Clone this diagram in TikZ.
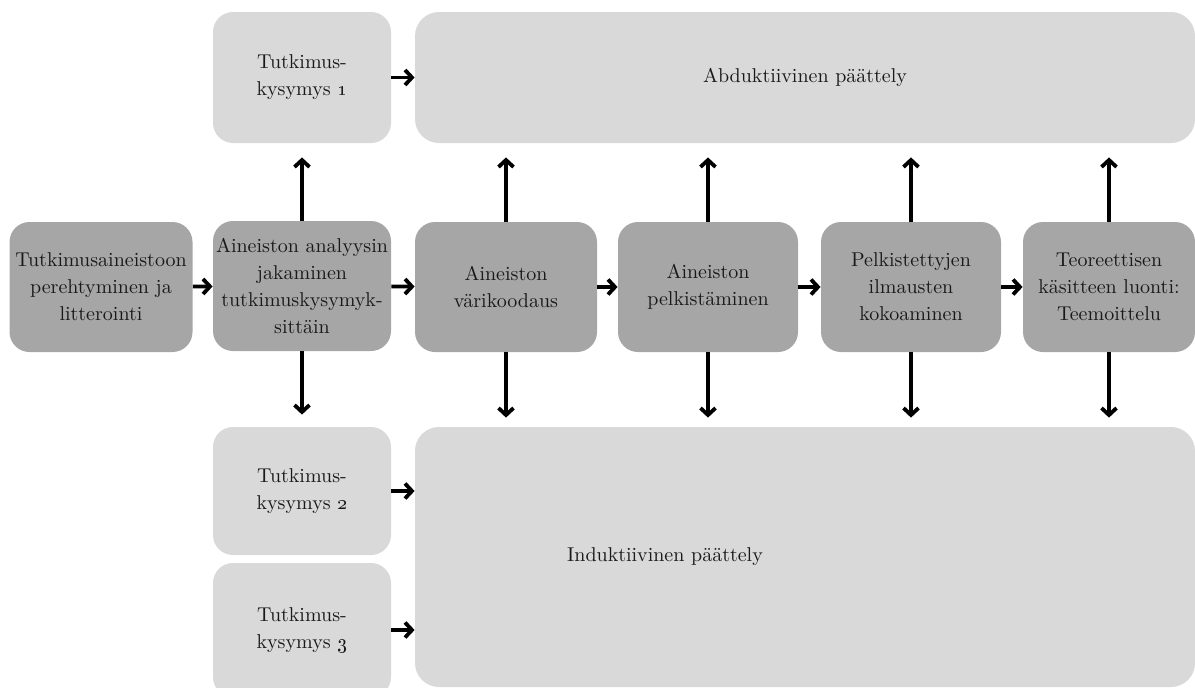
\documentclass[tikz,border=0pt]{standalone}
\usepackage{tikz}
\usetikzlibrary{positioning, arrows.meta}

\begin{document}
\begin{tikzpicture}[x=0.5pt, y=-0.5pt,
   arr/.style={-{Straight Barb[length=3.5pt, width=7.5pt]}, line width=1.9pt},
   phase/.style={rectangle, rounded corners=10pt, fill=black!35, text=black!90, align=center,
      inner sep=0pt, minimum width=90pt, minimum height=65pt, font=\fontsize{10}{13.5}\selectfont},
   qbox/.style={rectangle, rounded corners=10pt, fill=black!15, text=black!90, align=center,
      inner sep=0pt, minimum width=89pt, font=\fontsize{10}{13.5}\selectfont},
   big/.style={rectangle, rounded corners=12pt, fill=black!15, inner sep=0pt, minimum width=390pt}]
  \clip (0,0) rectangle (1195,687);
  \node[qbox, minimum height=65.5pt] (q1)  at (302,77.5) {Tutkimus-\\kysymys \oldstylenums{1}};
  \node[big, minimum height=65.5pt, text=black!90, font=\fontsize{10}{13.5}\selectfont]
        (abd) at (805,77.5) {Abduktiivinen päättely};
  \node[phase, minimum width=91.5pt] (b1) at (101,287) {Tutkimusaineistoon\\perehtyminen ja\\litterointi};
  \node[phase, minimum width=89pt]   (b2) at (302,286) {Aineiston analyysin\\jakaminen\\tutkimuskysymyk-\\sittäin};
  \node[phase, minimum width=91pt]   (b3) at (506,287) {Aineiston\\värikoodaus};
  \node[phase]                       (b4) at (708,287) {Aineiston\\pelkistäminen};
  \node[phase]                       (b5) at (911,287) {Pelkistettyjen\\ilmausten\\kokoaminen};
  \node[phase, minimum width=86pt]   (b6) at (1109,287) {Teoreettisen\\käsitteen luonti:\\Teemoittelu};
  \node[qbox, minimum height=64pt] (q2)  at (302,491) {Tutkimus-\\kysymys \oldstylenums{2}};
  \node[qbox, minimum height=67pt] (q3)  at (302,630) {Tutkimus-\\kysymys \oldstylenums{3}};
  \node[big, minimum height=130pt] (ind) at (805,557) {};
  \node[text=black!90, font=\fontsize{10}{13.5}\selectfont] (indlabel) at (665,557) {Induktiivinen päättely};
  \draw[arr] (b1) -- (b2);
  \draw[arr] (b2) -- (b3);
  \draw[arr] (b3) -- (b4);
  \draw[arr] (b4) -- (b5);
  \draw[arr] (b5) -- (b6);
  \draw[arr] (q1.east) -- (q1.east -| abd.west);
  \draw[arr] (q2.east) -- (q2.east -| ind.west);
  \draw[arr] (q3.east) -- (q3.east -| ind.west);
  \draw[arr, shorten >=7pt] (b2.north) -- (q1.south);
  \draw[arr, shorten >=6pt] (b2.south) -- (q2.north);
  \draw[arr, shorten >=7pt] (b3.north) -- (b3.north |- abd.south);
  \draw[arr, shorten >=7pt] (b4.north) -- (b4.north |- abd.south);
  \draw[arr, shorten >=7pt] (b5.north) -- (b5.north |- abd.south);
  \draw[arr, shorten >=7pt] (b6.north) -- (b6.north |- abd.south);
  \draw[arr, shorten >=4.5pt] (b3.south) -- (b3.south |- ind.north);
  \draw[arr, shorten >=4.5pt] (b4.south) -- (b4.south |- ind.north);
  \draw[arr, shorten >=4.5pt] (b5.south) -- (b5.south |- ind.north);
  \draw[arr, shorten >=4.5pt] (b6.south) -- (b6.south |- ind.north);
\end{tikzpicture}
\end{document}
